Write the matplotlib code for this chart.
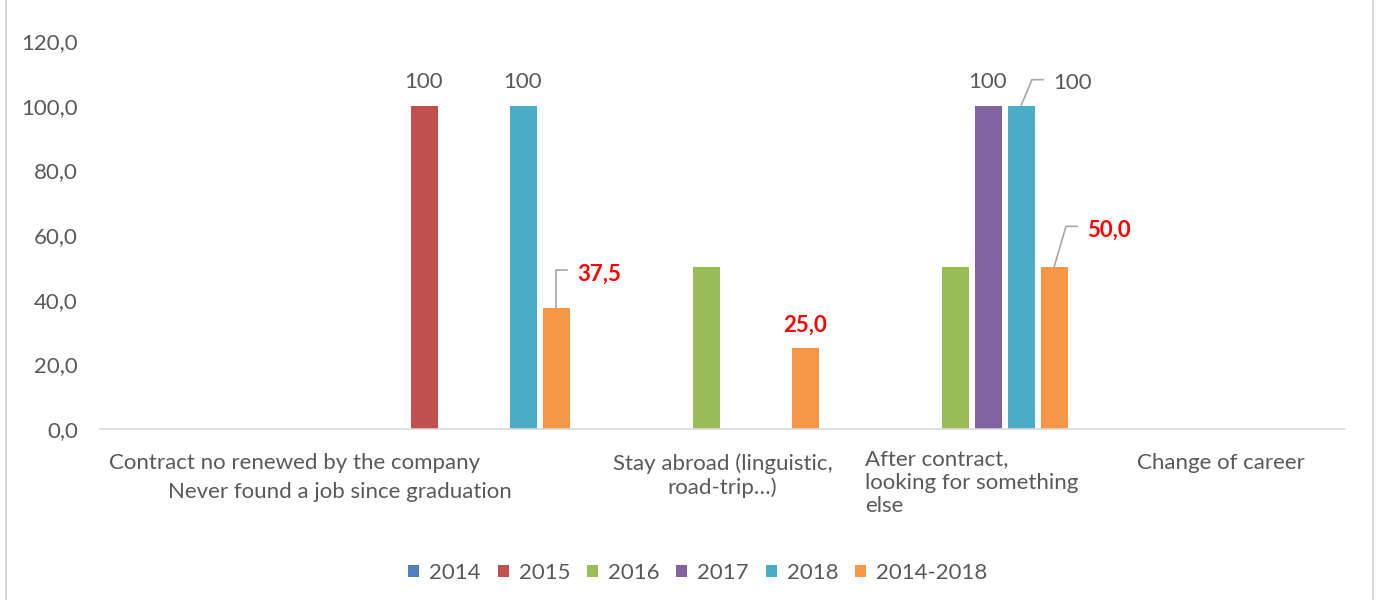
import numpy as np
import matplotlib.pyplot as plt
from matplotlib.lines import Line2D
from matplotlib.transforms import IdentityTransform

plt.rcParams['font.family'] = ['Lato', 'DejaVu Sans']

categories = ["Contract no renewed by the company",
              "Never found a job since graduation",
              "Stay abroad (linguistic,\nroad-trip…)",
              "After contract,\nlooking for something\nelse",
              "Change of career"]
series = ["2014", "2015", "2016", "2017", "2018", "2014-2018"]
v2014 = [0, 0, 0, 0, 0]
v2015 = [0, 100, 0, 0, 0]
v2016 = [0, 0, 50, 50, 0]
v2017 = [0, 0, 0, 100, 0]
v2018 = [0, 100, 0, 100, 0]
v_total = [0, 37.5, 25.0, 50.0, 0]
colors = ["#4F81BD", "#C0504D", "#9BBB59", "#8064A2", "#4BACC6", "#F79646"]
yticks = [0, 20, 40, 60, 80, 100, 120]

values = [v2014, v2015, v2016, v2017, v2018, v_total]
grey = "#595959"
fs = 16

fig = plt.figure(figsize=(13.8, 6), dpi=100)
ax = fig.add_axes([100/1380, 1 - 429/600, 1245/1380, 388/600])
ax.set_xlim(-0.5, 4.5)
ax.set_ylim(0, 120)

x = np.arange(len(categories))
width = 27/249
step = 33/249
bars = []
for i, vals in enumerate(values):
    b = ax.bar(x + (i - 2.5)*step, vals, width, color=colors[i], label=series[i])
    bars.append(b)

for s in ["top", "right", "left"]:
    ax.spines[s].set_visible(False)
ax.spines["bottom"].set_color("#D9D9D9")
ax.spines["bottom"].set_linewidth(1.2)

ax.set_yticks(yticks)
ax.set_yticklabels([f"{v:.1f}".replace(".", ",") for v in yticks])
ax.set_xticks([])
ax.tick_params(axis="y", length=0, pad=16, labelsize=fs, labelcolor=grey)

# category labels (Excel placed the first two oddly)
label_x = [0.283, 0.464, 2, 3, 4]
label_dy = [24, 53, 24, 20, 24]
label_align = ["center", "center", "center", "left", "center"]
for cat, lx, dy, al in zip(categories, label_x, label_dy, label_align):
    ax.annotate(cat, xy=(lx, 0), xycoords=("data", "axes fraction"),
                xytext=(0, -dy), textcoords="offset pixels",
                ha="center", va="top", multialignment=al,
                fontsize=fs, color=grey, linespacing=1.22)

# data labels: (series, category, leader offsets in px, text offset in px)
labels = [
    (1, 1, None, (0, 24)),
    (4, 1, None, (0, 24)),
    (3, 3, None, (0, 24)),
    (4, 3, [(0, 0), (11, 26), (22, 26)], (32, 23)),
    (5, 1, [(0, 0), (0, 38), (11, 38)], (21, 34)),
    (5, 2, None, (0, 23)),
    (5, 3, [(0, 0), (12, 41), (23, 41)], (33, 37)),
]
for si, ci, leader, (tx, ty) in labels:
    v = values[si][ci]
    bx = ci + (si - 2.5)*step
    px, py = ax.transData.transform((bx, v))
    if si == 5:
        txt = f"{v:.1f}".replace(".", ",")
        kw = dict(color="#FF0000", fontweight="bold")
    else:
        txt = f"{v:g}"
        kw = dict(color=grey)
    ax.text(px + tx, py + ty, txt, transform=IdentityTransform(),
            ha="left" if leader else "center", va="center", fontsize=fs, **kw)
    if leader:
        ax.add_line(Line2D([px + ox for ox, oy in leader], [py + oy for ox, oy in leader],
                           transform=IdentityTransform(), color="#A6A6A6",
                           linewidth=1.2, clip_on=False))

fig.legend(handles=bars, ncol=6, loc="center", bbox_to_anchor=(698/1380, 1 - 573/600),
           frameon=False, fontsize=fs, handlelength=0.5, handleheight=0.5,
           handletextpad=0.45, columnspacing=0.75, labelcolor=grey)

# chart area border
for bx in [6, 1373]:
    fig.add_artist(Line2D([bx, bx], [0, 600], transform=IdentityTransform(),
                          color="#D9D9D9", linewidth=1.5))

fig.savefig("out.png", dpi=100)
